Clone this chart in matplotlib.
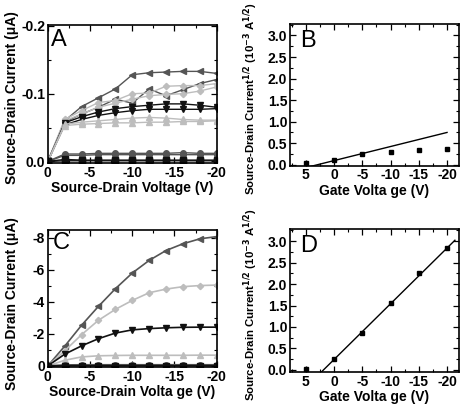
import numpy as np
import matplotlib.pyplot as plt
from matplotlib.ticker import MultipleLocator

plt.rcParams['font.family'] = ['Liberation Sans', 'DejaVu Sans']
plt.rcParams['font.weight'] = 'bold'
plt.rcParams['mathtext.default'] = 'bf'
plt.rcParams['axes.unicode_minus'] = False

# drain voltage sweep (V)
vds = [0, -2, -4, -6, -8, -10, -12, -14, -16, -18, -20]

# panel A: output curves (uA), two sweeps per gate voltage
a_left1 = [0, -0.060, -0.081, -0.094, -0.107, -0.128, -0.131, -0.132, -0.133, -0.133, -0.130]
a_left2 = [0, -0.058, -0.070, -0.080, -0.092, -0.086, -0.107, -0.097, -0.106, -0.115, -0.121]
a_diam1 = [0, -0.062, -0.075, -0.087, -0.090, -0.100, -0.101, -0.111, -0.112, -0.112, -0.115]
a_diam2 = [0, -0.060, -0.070, -0.080, -0.086, -0.092, -0.097, -0.099, -0.100, -0.104, -0.110]
a_down1 = [0, -0.057, -0.066, -0.073, -0.078, -0.081, -0.083, -0.085, -0.085, -0.083, -0.080]
a_down2 = [0, -0.054, -0.062, -0.068, -0.072, -0.075, -0.077, -0.077, -0.077, -0.077, -0.078]
a_up1 = [0, -0.055, -0.058, -0.060, -0.062, -0.064, -0.065, -0.064, -0.062, -0.061, -0.061]
a_up2 = [0, -0.053, -0.055, -0.056, -0.057, -0.057, -0.058, -0.058, -0.059, -0.059, -0.060]
a_circ1 = [0, -0.011, -0.011, -0.012, -0.012, -0.012, -0.012, -0.012, -0.013, -0.012, -0.012]
a_circ2 = [0, -0.009, -0.009, -0.010, -0.010, -0.010, -0.010, -0.010, -0.010, -0.010, -0.010]
a_sq1 = [0, -0.003, -0.002, -0.002, -0.002, -0.002, -0.002, -0.002, -0.002, -0.002, -0.002]
a_sq2 = [0, -0.001, -0.001, -0.001, -0.001, -0.001, -0.001, -0.001, -0.001, -0.001, -0.001]

# panel C: output curves (uA)
c_left = [0, -1.23, -2.54, -3.72, -4.82, -5.80, -6.59, -7.21, -7.63, -7.94, -8.08]
c_diam = [0, -0.94, -1.95, -2.85, -3.53, -4.09, -4.57, -4.80, -4.95, -5.02, -5.05]
c_down = [0, -0.73, -1.25, -1.70, -2.05, -2.25, -2.33, -2.38, -2.41, -2.42, -2.42]
c_up = [0, -0.35, -0.56, -0.63, -0.65, -0.66, -0.66, -0.66, -0.66, -0.67, -0.67]
c_circ = [0, -0.06, -0.07, -0.07, -0.07, -0.07, -0.07, -0.07, -0.07, -0.07, -0.07]
c_sq = [0, -0.01, -0.01, -0.01, -0.01, -0.01, -0.01, -0.01, -0.01, -0.01, -0.01]

# transfer curves, sqrt(I) (1e-3 A^1/2)
vg = [5, 0, -5, -10, -15, -20]
b_sqrt = [0.04, 0.10, 0.25, 0.29, 0.34, 0.36]
b_fit_x = [4.2, -20]
b_fit_y = [-0.04, 0.75]
d_sqrt = [0.02, 0.25, 0.85, 1.55, 2.25, 2.85]
d_fit_x = [2.8, -21.4]
d_fit_y = [-0.12, 3.02]

dark = '#555555'
light = '#bdbdbd'
black = '#111111'

fig = plt.figure(figsize=(4.64, 4.04), dpi=100)
axA = fig.add_axes([0.103, 0.597, 0.364, 0.342])
axB = fig.add_axes([0.625, 0.590, 0.364, 0.351])
axC = fig.add_axes([0.103, 0.092, 0.364, 0.339])
axD = fig.add_axes([0.625, 0.079, 0.364, 0.354])

ms = 4
styles = [(dark, '<'), (light, 'D'), (black, 'v'), (light, '^'), (dark, 'o'), (black, 's')]

a_series = [(a_left1, a_left2), (a_diam1, a_diam2), (a_down1, a_down2),
            (a_up1, a_up2), (a_circ1, a_circ2), (a_sq1, a_sq2)]
for (col, mk), pair in zip(styles, a_series):
    for ys in pair:
        axA.plot(vds, ys, color=col, marker=mk, ms=ms if mk != 'D' else 3.2, lw=1)

c_series = [c_left, c_diam, c_down, c_up, c_circ, c_sq]
for (col, mk), ys in zip(styles, c_series):
    axC.plot(vds, ys, color=col, marker=mk, ms=ms if mk != 'D' else 3.2, lw=1.2)

axB.plot(vg, b_sqrt, 's', color='black', ms=3.5)
axB.plot(b_fit_x, b_fit_y, color='black', lw=1)
axD.plot(vg, d_sqrt, 's', color='black', ms=3.5)
axD.plot(d_fit_x, d_fit_y, color='black', lw=1)

for ax in (axA, axB, axC, axD):
    ax.tick_params(which='both', direction='in', top=True, right=True,
                   labelsize=10, pad=2)
    ax.tick_params(which='major', length=4, width=0.9)
    ax.tick_params(which='minor', length=2, width=0.8)
    for sp in ax.spines.values():
        sp.set_linewidth(1.2)

axA.set_xlim(0, -20)
axA.set_ylim(0.002, -0.202)
axA.set_xticks([0, -5, -10, -15, -20])
axA.set_yticks([0.0, -0.1, -0.2])
axA.set_yticklabels(['0.0', '-0.1', '-0.2'])
axA.xaxis.set_minor_locator(MultipleLocator(2.5))
axA.yaxis.set_minor_locator(MultipleLocator(0.05))
axA.set_xlabel('Source-Drain Voltage (V)', fontsize=10, fontweight='bold', labelpad=1)
axA.set_ylabel('Source-Drain Current (\u03bcA)', fontsize=10, fontweight='bold')
axA.yaxis.set_label_coords(-0.17, 0.47)

axC.set_xlim(0, -20)
axC.set_ylim(0.06, -8.5)
axC.set_xticks([0, -5, -10, -15, -20])
axC.set_yticks([0, -2, -4, -6, -8])
axC.xaxis.set_minor_locator(MultipleLocator(2.5))
axC.yaxis.set_minor_locator(MultipleLocator(1))
axC.set_xlabel('Source-Drain Volta ge (V)', fontsize=10, fontweight='bold', labelpad=1)
axC.set_ylabel('Source-Drain Current (\u03bcA)', fontsize=10, fontweight='bold')
axC.yaxis.set_label_coords(-0.17, 0.46)

for ax, ylo, yhi in ((axB, -0.02, 3.27), (axD, -0.05, 3.28)):
    ax.set_xlim(7.8, -22.1)
    ax.set_ylim(ylo, yhi)
    ax.set_xticks([5, 0, -5, -10, -15, -20])
    ax.set_yticks(np.arange(0, 3.01, 0.5))
    ax.set_yticklabels(['0.0', '0.5', '1.0', '1.5', '2.0', '2.5', '3.0'])
    ax.xaxis.set_minor_locator(MultipleLocator(2.5))
    ax.yaxis.set_minor_locator(MultipleLocator(0.25))
    ax.set_xlabel('Gate Volta ge (V)', fontsize=10, fontweight='bold', labelpad=1)
    ax.set_ylabel('Source-Drain Current$^{1/2}$ (10$^{-3}$ A$^{1/2}$)',
                  fontsize=8.2, fontweight='bold')
    ax.yaxis.set_label_coords(-0.18, 0.47)

for ax in (axA, axB, axC, axD):
    for lab in ax.get_xticklabels() + ax.get_yticklabels():
        lab.set_fontweight('bold')

for ax, letter, dx, dy in ((axA, 'A', 0.02, 0.97), (axB, 'B', 0.06, 0.96),
                           (axC, 'C', 0.03, 0.985), (axD, 'D', 0.06, 0.96)):
    ax.text(dx, dy, letter, transform=ax.transAxes, fontsize=17,
            fontweight='normal', ha='left', va='top')

fig.savefig('out.png', dpi=100)
